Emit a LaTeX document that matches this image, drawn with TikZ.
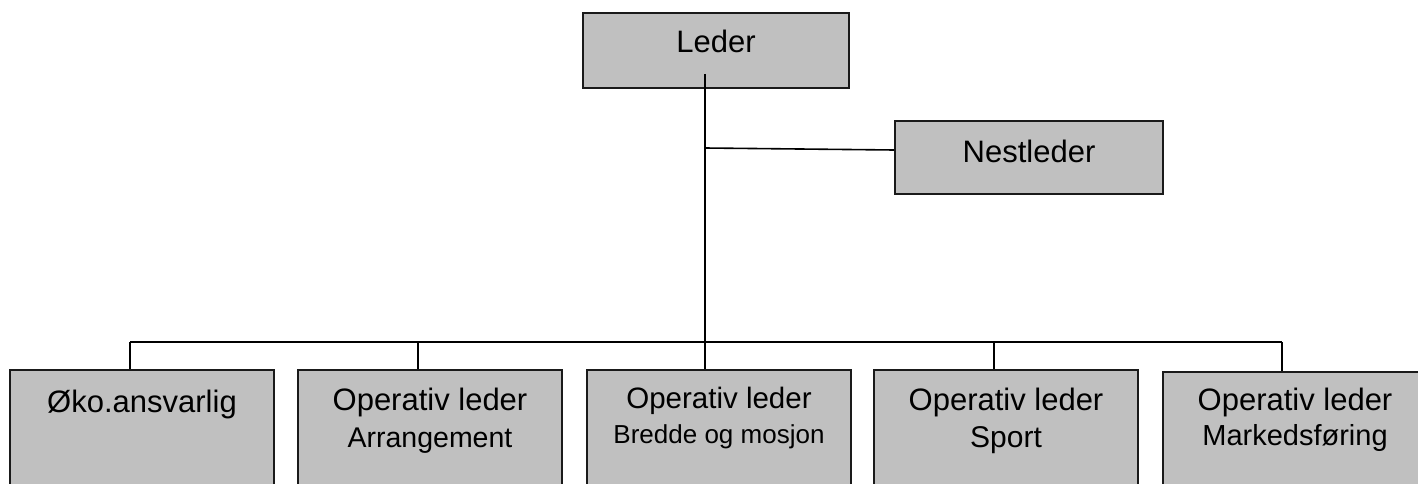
\documentclass[tikz,border=0pt]{standalone}
\usepackage{fontspec}
\setmainfont{Liberation Sans}
\definecolor{boxgray}{HTML}{C0C0C0}
\definecolor{linegray}{HTML}{1A1A1A}
\begin{document}
\begin{tikzpicture}[x=1pt,y=-1pt,
  box/.style={draw=linegray, line width=1.8pt, fill=boxgray, inner sep=0pt},
  conn/.style={draw=black, line width=1.6pt},
  txt/.style={anchor=base, inner sep=0pt, text=black},
  big/.style={font=\fontsize{31}{36}\selectfont},
  mid/.style={font=\fontsize{28.5}{34}\selectfont}]
\useasboundingbox (0,0) rectangle (1418,484);
% top boxes
\node[box, minimum width=266pt, minimum height=75pt] (leder) at (716,50.5) {};
\node[txt, big] (lederT) at (716,53) {Leder};
\node[box, minimum width=268pt, minimum height=73pt] (nest) at (1029,157.5) {};
\node[txt, big] (nestT) at (1029,162) {Nestleder};
% bottom boxes
\node[box, minimum width=264pt, minimum height=140pt] (b1) at (142,440) {};
\node[box, minimum width=264pt, minimum height=140pt] (b2) at (430,440) {};
\node[box, minimum width=264pt, minimum height=140pt] (b3) at (719,440) {};
\node[box, minimum width=264pt, minimum height=140pt] (b4) at (1006,440) {};
\node[box, minimum width=264pt, minimum height=140pt] (b5) at (1295,442) {};
% texts
\node[txt, big] (t1) at (142,412) {Øko.ansvarlig};
\node[txt, big] (t2a) at (430,410) {Operativ leder};
\node[txt, mid] (t2b) at (430,447) {Arrangement};
\node[txt, font=\fontsize{29.5}{34}\selectfont] (t3a) at (719,408) {Operativ leder};
\node[txt, font=\fontsize{26}{30}\selectfont] (t3b) at (719,443) {Bredde og mosjon};
\node[txt, big] (t4a) at (1006,410) {Operativ leder};
\node[txt, font=\fontsize{30}{34}\selectfont] (t4b) at (1006,447) {Sport};
\node[txt, big] (t5a) at (1295,410) {Operativ leder};
\node[txt, font=\fontsize{29}{34}\selectfont] (t5b) at (1295,445) {Markedsføring};
% connectors
\coordinate (ltop) at (705,74);
\coordinate (nj) at (705,148);
\coordinate (d1) at (130,342);
\coordinate (d2) at (418,342);
\coordinate (d3) at (705,342);
\coordinate (d4) at (994,342);
\coordinate (d5) at (1282,342);
\draw[conn] (ltop) -- (d3);
\draw[conn] (nj) -- (nest.west |- 0,150);
\draw[conn] (d1) -- (d5);
\draw[conn] (d1) -- (d1 |- b1.north);
\draw[conn] (d2) -- (d2 |- b2.north);
\draw[conn] (d3) -- (d3 |- b3.north);
\draw[conn] (d4) -- (d4 |- b4.north);
\draw[conn] (d5) -- (d5 |- b5.north);
\end{tikzpicture}
\end{document}
